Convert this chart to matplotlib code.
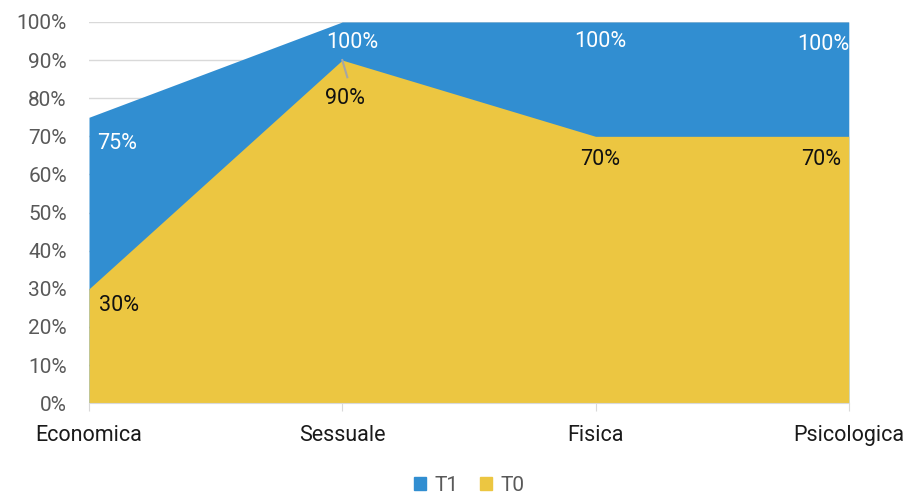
import matplotlib.pyplot as plt
from matplotlib.patches import Patch

plt.rcParams['font.family'] = ['Roboto', 'DejaVu Sans']

categories = ['Economica', 'Sessuale', 'Fisica', 'Psicologica']
t1 = [75, 100, 100, 100]
t0 = [30, 90, 70, 70]

blue = '#318ED1'
yellow = '#ECC641'

fig = plt.figure(figsize=(9.11, 4.99), dpi=100)
ax = fig.add_axes([0.0977, 0.192, 0.834, 0.764])

x = list(range(len(categories)))
ax.fill_between(x, 0, t1, color=blue, linewidth=0, zorder=2)
ax.fill_between(x, 0, t0, color=yellow, linewidth=0, zorder=3)

ax.set_xlim(0, len(categories) - 1)
ax.set_ylim(0, 100)
ax.set_yticks(range(0, 101, 10))
ax.set_yticklabels([f'{v}%' for v in range(0, 101, 10)])
ax.set_xticks(x)
ax.set_xticklabels(categories)
ax.grid(axis='y', color='#D9D9D9', linewidth=1, zorder=1)
ax.set_axisbelow(True)

for s in ['top', 'right', 'left']:
    ax.spines[s].set_visible(False)
ax.spines['bottom'].set_color('#D9D9D9')
ax.spines['bottom'].set_zorder(4)
ax.tick_params(axis='y', length=0, labelsize=15, labelcolor='#595959', pad=16)
ax.tick_params(axis='x', length=6, color='#D9D9D9', labelsize=15.5,
               labelcolor='#1a1a1a', pad=10)

# T1 labels (white)
t1_offsets = [(0.11, -7), (0.04, -5.5), (0.02, -5), (-0.1, -6)]
for i, v in enumerate(t1):
    dx, dy = t1_offsets[i]
    ax.text(i + dx, v + dy, f'{v}%', color='white', fontsize=15.5,
            ha='center', va='center', zorder=5)

# T0 labels (black)
t0_offsets = [(0.12, -4.5), (0.01, -10), (0.02, -6), (-0.11, -6)]
for i, v in enumerate(t0):
    dx, dy = t0_offsets[i]
    ax.text(i + dx, v + dy, f'{v}%', color='#111111', fontsize=15.5,
            ha='center', va='center', zorder=5)

# leader line for Sessuale T0
ax.plot([1.0, 1.02], [90, 85.5], color='#A6A6A6', linewidth=1.5, zorder=5)

handles = [Patch(color=blue, label='T1'), Patch(color=yellow, label='T0')]
fig.legend(handles=handles, loc='lower center', ncol=2, frameon=False,
           bbox_to_anchor=(0.515, -0.03), fontsize=15, handlelength=0.6,
           handleheight=0.6, handletextpad=0.4, columnspacing=1.0,
           labelcolor='#595959')

fig.savefig('out.png', dpi=100)
